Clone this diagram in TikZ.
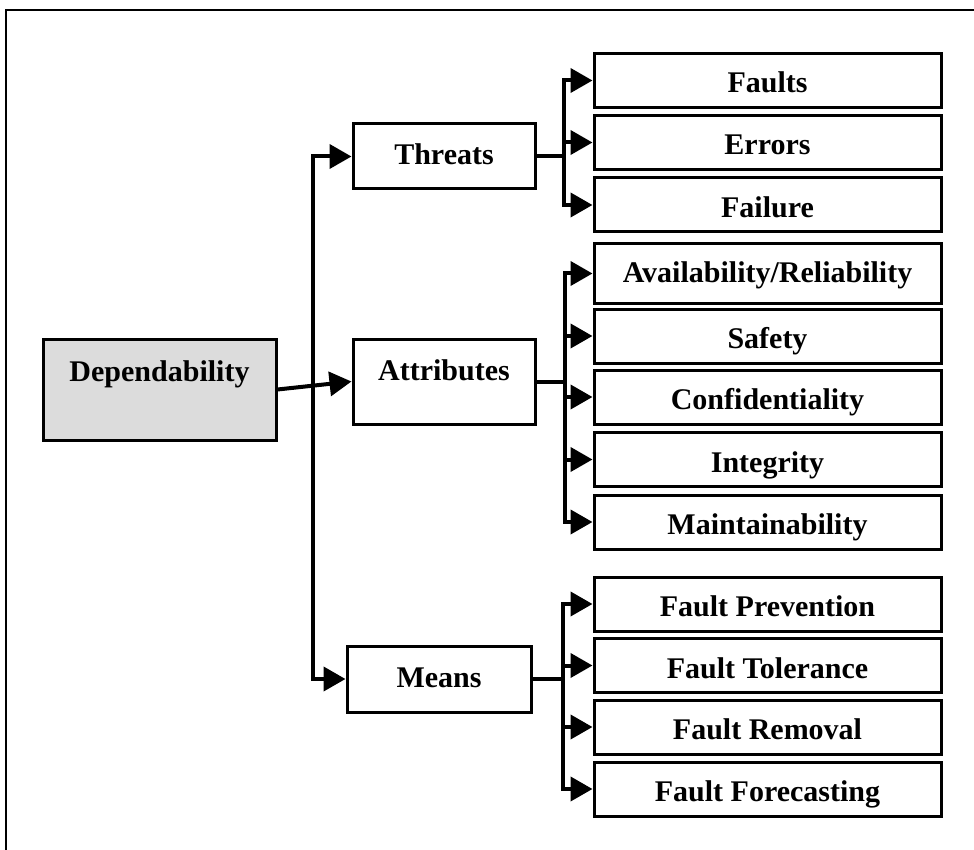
\documentclass[tikz,border=0pt]{standalone}
\usepackage{fontspec}
\setmainfont{Liberation Serif}
\usetikzlibrary{arrows.meta}
\definecolor{depgray}{HTML}{DCDCDC}
\begin{document}
\begin{tikzpicture}[x=1pt,y=-1pt,
  lbl/.style={inner sep=0pt, font=\fontsize{30}{32}\selectfont\bfseries},
  box/.style={draw, line width=3pt, inner sep=0pt,
    font=\fontsize{30}{32}\selectfont\bfseries, text height=25pt, text depth=0pt},
  leaf/.style={box, minimum width=347pt, minimum height=54pt},
  mid/.style={box, text depth=8pt},
  conn/.style={line width=4pt},
  arr/.style={conn, -{Triangle[length=22pt,width=24pt]}},
]
\useasboundingbox (0,0) rectangle (974,850);
% outer frame
\draw[line width=1.5pt] (6,10) rectangle (1000,900);

% root
\node[box, fill=depgray, minimum width=233pt, minimum height=101pt] (dep) at (159.5,389.5) {};
\node[lbl, anchor=base] (deplbl) at (159.5,381) {Dependability};

% second level
\node[mid, minimum width=182pt, minimum height=65pt] (thr) at (444,156.5) {Threats};
\node[box, minimum width=182pt, minimum height=85pt] (att) at (444,381.5) {};
\node[lbl, anchor=base] (attlbl) at (444,380) {Attributes};
\node[mid, minimum width=184pt, minimum height=66pt] (mea) at (439,679) {Means};

% leaves
\node[leaf] (faults)  at (767.5,80.5)  {Faults};
\node[leaf] (errors)  at (767.5,142.5) {Errors};
\node[leaf] (failure) at (767.5,205)   {Failure};
\node[leaf, minimum height=59pt, text depth=6pt] (avail) at (767.5,273.5) {Availability/Reliability};
\node[leaf] (safety)  at (767.5,336)   {Safety};
\node[leaf] (conf)    at (767.5,397)   {Confidentiality};
\node[leaf] (integ)   at (767.5,459.5) {Integrity};
\node[leaf] (maint)   at (767.5,522)   {Maintainability};
\node[leaf] (fprev)   at (767.5,604)   {Fault Prevention};
\node[leaf] (ftol)    at (767.5,665.5) {Fault Tolerance};
\node[leaf] (frem)    at (767.5,727)   {Fault Removal};
\node[leaf] (ffore)   at (767.5,789)   {Fault Forecasting};

% trunk from the root
\coordinate (trunk) at (313,385);
\draw[arr] (dep.east) -- (att.west);
\draw[arr] (trunk) |- (thr.west);
\draw[arr] (trunk) |- (mea.west);

% forks to the leaves
\coordinate (tf) at (564,156.5);
\coordinate (af) at (565,381.5);
\coordinate (mf) at (563,679);
\draw[conn] (thr.east) -- (tf);
\draw[conn] (att.east) -- (af);
\draw[conn] (mea.east) -- (mf);
\foreach \n in {faults,errors,failure} \draw[arr] (tf) |- (\n.west);
\foreach \n in {avail,safety,conf,integ,maint} \draw[arr] (af) |- (\n.west);
\foreach \n in {fprev,ftol,frem,ffore} \draw[arr] (mf) |- (\n.west);
\end{tikzpicture}
\end{document}
